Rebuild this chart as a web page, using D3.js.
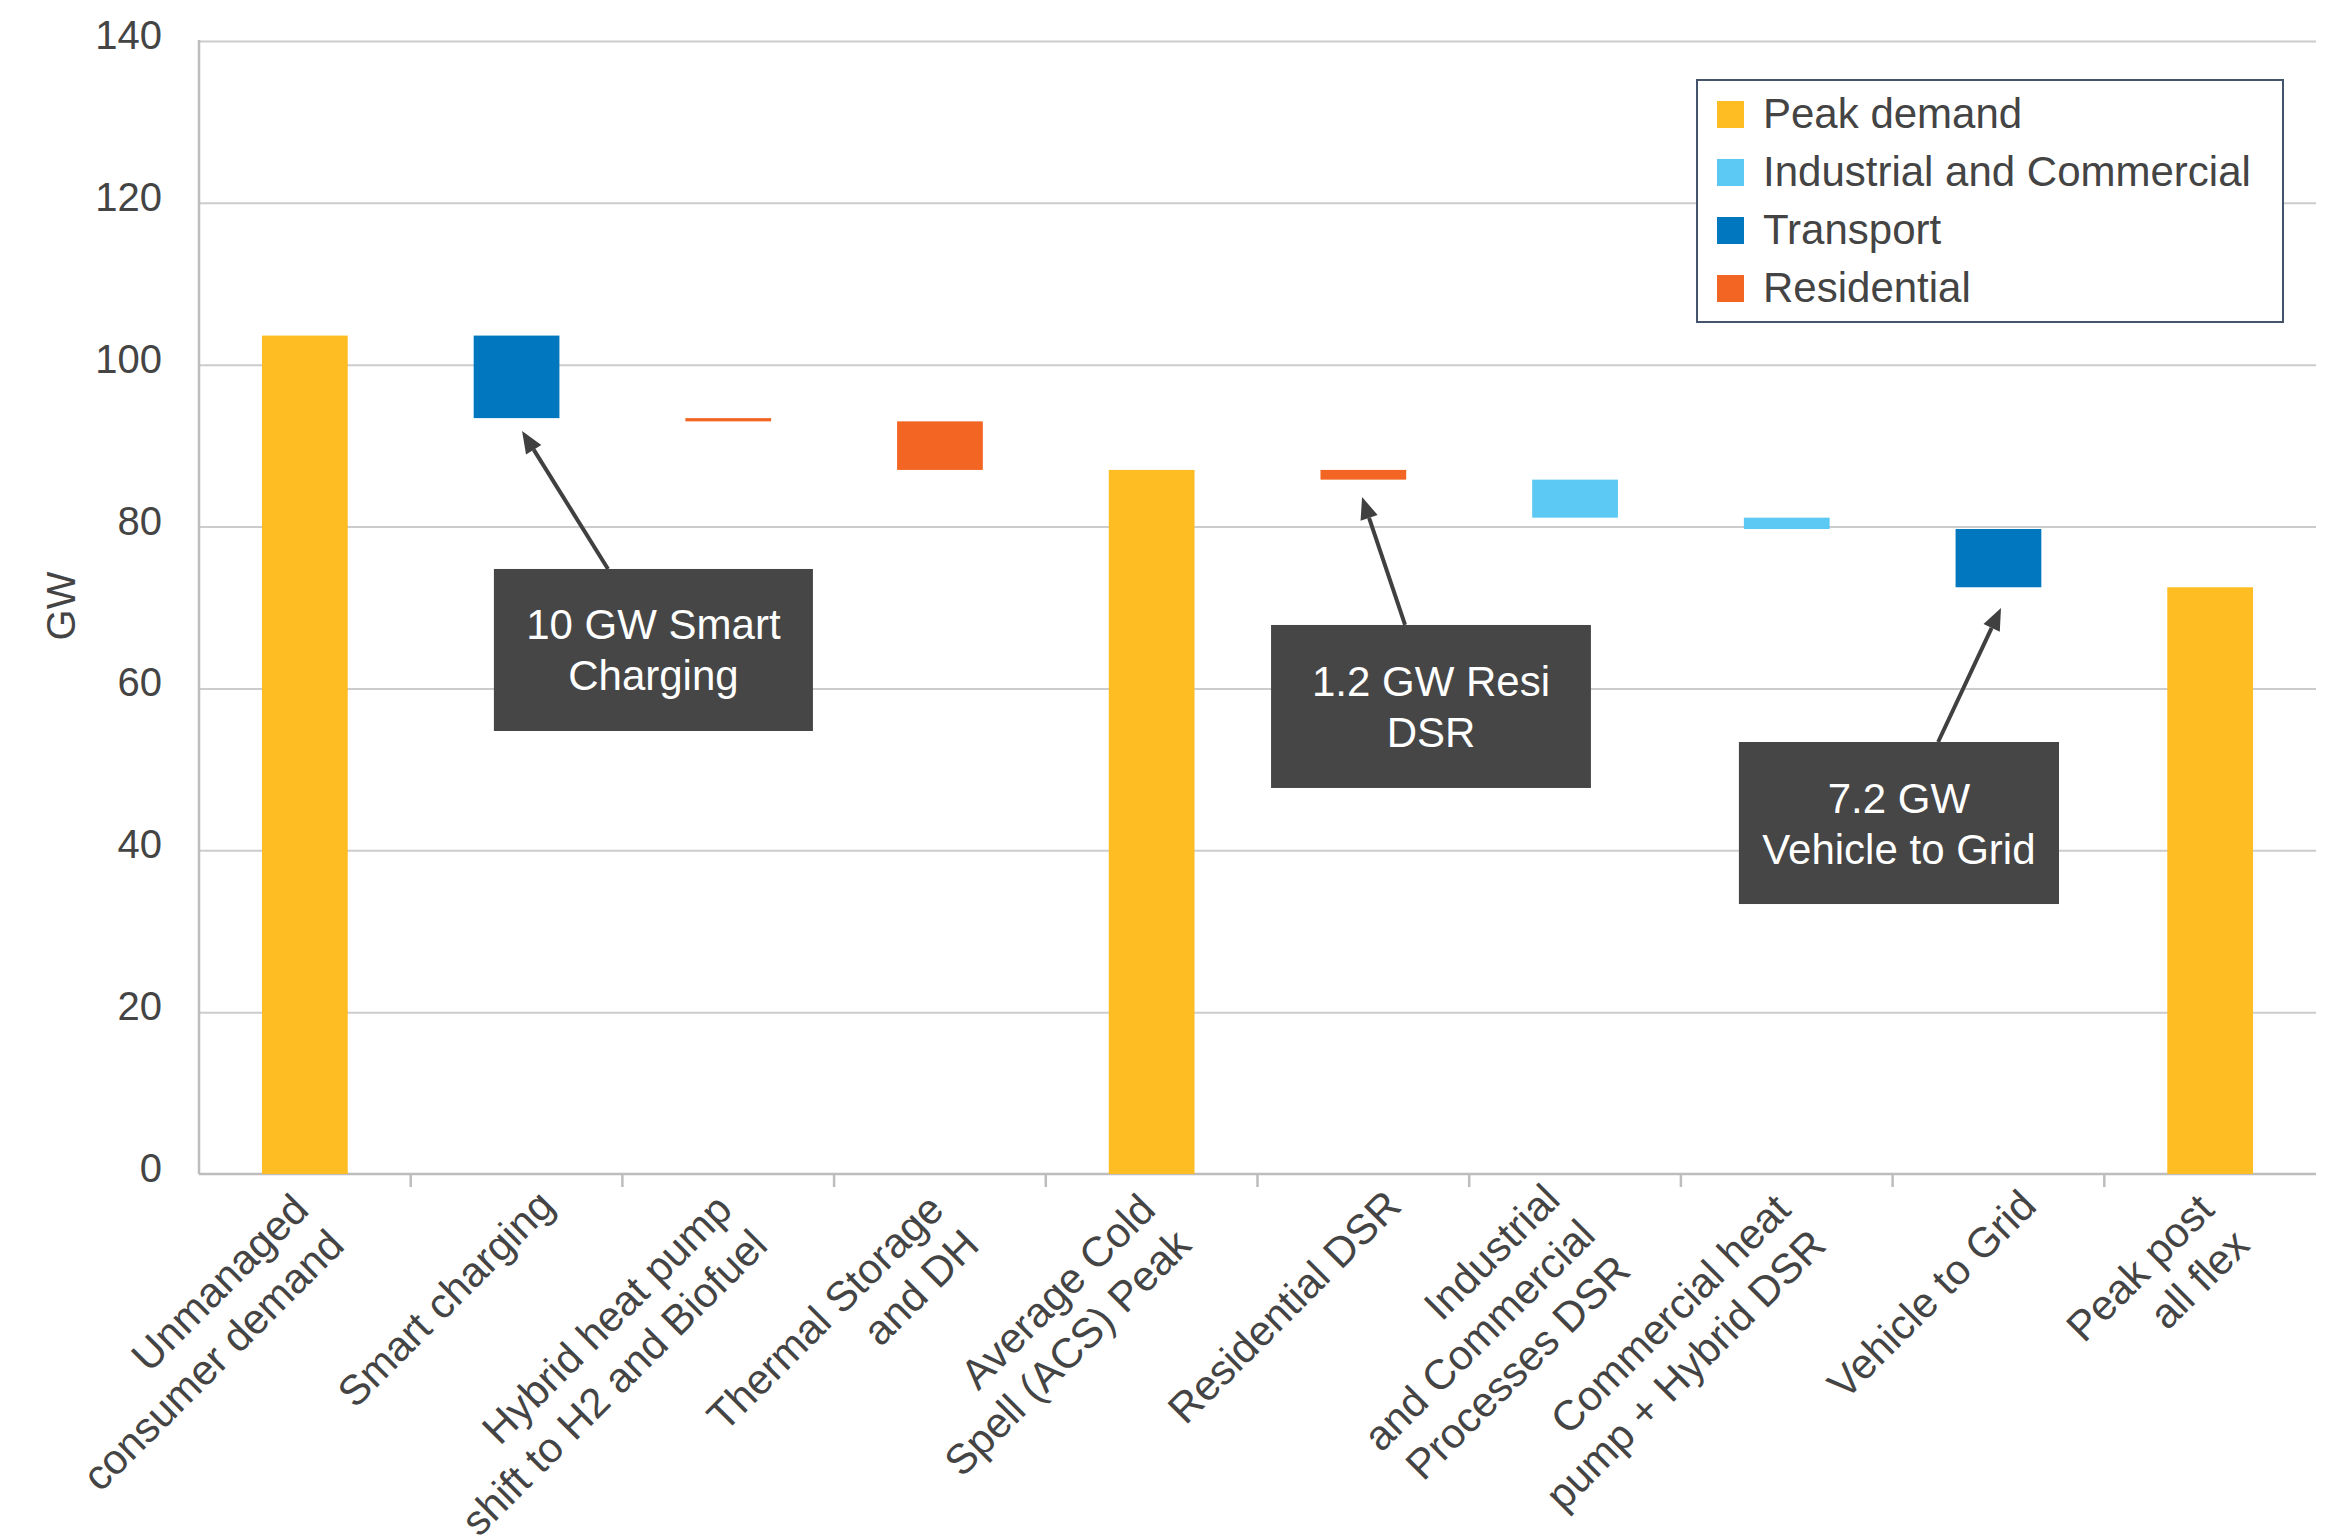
<!DOCTYPE html>
<html><head><meta charset="utf-8">
<script src="https://cdn.jsdelivr.net/npm/d3@7"></script>
<style>
body{margin:0;background:#fff}
text{font-family:"Liberation Sans",Arial,Helvetica,sans-serif}
</style>
</head><body>
<svg id="chart" width="2335" height="1540"></svg>
<script>
// ---------------- DATA ----------------
const categories = ["Unmanaged consumer demand","Smart charging","Hybrid heat pump shift to H2 and Biofuel",
  "Thermal Storage and DH","Average Cold Spell (ACS) Peak","Residential DSR",
  "Industrial and Commercial Processes DSR","Commercial heat pump + Hybrid DSR","Vehicle to Grid","Peak post all flex"];
const labelLines = [["Unmanaged","consumer demand"],["Smart charging"],["Hybrid heat pump","shift to H2 and Biofuel"],
  ["Thermal Storage","and DH"],["Average Cold","Spell (ACS) Peak"],["Residential DSR"],
  ["Industrial","and Commercial","Processes DSR"],["Commercial heat","pump + Hybrid DSR"],["Vehicle to Grid"],["Peak post","all flex"]];
// totals (full bars) and reductions (floating waterfall steps), GW
const totals     = [103.6, null, null, null, 87.0, null, null, null, null, 72.5];
const reductions = [null, 10.2, 0.4, 6.0, null, 1.2, 4.7, 1.4, 7.2, null];
const sectors = ["Peak demand","Transport","Residential","Residential","Peak demand","Residential",
  "Industrial and Commercial","Industrial and Commercial","Transport","Peak demand"];
const legendNames  = ["Peak demand","Industrial and Commercial","Transport","Residential"];
const legendColors = ["#FEBD22","#5BC9F4","#0077BF","#F26522"];
const yTicks = [0,20,40,60,80,100,120,140];
const annotationTexts = [["10 GW Smart","Charging"],["1.2 GW Resi","DSR"],["7.2 GW","Vehicle to Grid"]];

// ---------------- LAYOUT ----------------
const W = 2335, H = 1540;
const M = {left:199, right:2316, top:41, bottom:1174};
const textColor = "#444444";
const svg = d3.select("#chart");
svg.append("rect").attr("width",W).attr("height",H).attr("fill","#fff");

const x = d3.scaleBand().domain(categories).range([M.left, M.right]).padding(0);
const xu = d3.scaleLinear().domain([0, categories.length]).range([M.left, M.right]); // band units
const y = d3.scaleLinear().domain([0,140]).range([M.bottom, M.top]);
const color = d3.scaleOrdinal().domain(legendNames).range(legendColors);

// y axis with gridlines
const yAxis = svg.append("g").attr("transform",`translate(${M.left},0)`)
  .call(d3.axisLeft(y).tickValues(yTicks).tickSize(-(M.right-M.left)).tickPadding(37));
yAxis.select(".domain").remove();
yAxis.selectAll(".tick line").attr("stroke","#CCCCCC").attr("stroke-width",2)
  .filter(d=>d===0).remove();
yAxis.selectAll(".tick text").attr("fill",textColor).attr("font-size",40)
  .attr("dy","7.5px").style("font-family",'"Liberation Sans",Arial,sans-serif');

// axis lines
svg.append("line").attr("x1",M.left).attr("x2",M.left).attr("y1",M.top-1).attr("y2",M.bottom)
  .attr("stroke","#BDBDBD").attr("stroke-width",2.5);
svg.append("line").attr("x1",M.left).attr("x2",M.right).attr("y1",y(0)).attr("y2",y(0))
  .attr("stroke","#BDBDBD").attr("stroke-width",2.5);
// category boundary ticks
svg.append("g").selectAll("line").data(categories.slice(1)).join("line")
  .attr("x1",d=>x(d)).attr("x2",d=>x(d)).attr("y1",y(0)).attr("y2",y(0)+13)
  .attr("stroke","#BDBDBD").attr("stroke-width",2.5);

// y title
svg.append("text").attr("transform","translate(75,606) rotate(-90)")
  .attr("text-anchor","middle").attr("font-size",40).attr("fill",textColor).text("GW");

// waterfall bars
let level = 0;
const bars = categories.map((c,i)=>{
  let top, bottom;
  if (totals[i] !== null) { top = totals[i]; bottom = 0; level = totals[i]; }
  else { top = level; bottom = level - reductions[i]; level = bottom; }
  return {c, top, bottom, sector: sectors[i]};
});
const bw = x.bandwidth()*0.405;
svg.append("g").selectAll("rect").data(bars).join("rect")
  .attr("x",d=>x(d.c)+x.bandwidth()/2-bw/2).attr("width",bw)
  .attr("y",d=>y(d.top)).attr("height",d=>y(d.bottom)-y(d.top))
  .attr("fill",d=>color(d.sector));

// x labels, rotated -45
const LH = 50;
const firstLineOffset = {1:[40,34], 2:[6,38], 3:[-13,28]};
const xl = svg.append("g");
categories.forEach((c,i)=>{
  const lines = labelLines[i];
  const off = firstLineOffset[lines.length];
  const cx = x(c)+x.bandwidth()/2;
  const t = xl.append("text")
    .attr("transform",`translate(${cx+off[0]},${y(0)+off[1]}) rotate(-45)`)
    .attr("text-anchor","end").attr("font-size",42).attr("fill",textColor);
  lines.forEach((ln,k)=>t.append("tspan").attr("x",0).attr("y",k*LH).text(ln));
});

// legend
const lg = svg.append("g");
lg.append("rect").attr("x",1697).attr("y",80).attr("width",586).attr("height",242)
  .attr("fill","#fff").attr("stroke","#44546A").attr("stroke-width",2);
legendNames.forEach((n,i)=>{
  lg.append("rect").attr("x",1717).attr("y",101+58*i).attr("width",27).attr("height",27).attr("fill",legendColors[i]);
  lg.append("text").attr("x",1763).attr("y",128+58*i).attr("font-size",42).attr("fill",textColor).text(n);
});

// annotations (positions in band units / GW)
const annotationLayout = [
  {box:[1.393,2.900,74.76,54.74], from:[1.932,74.76], to:[1.526,91.81]},
  {box:[5.064,6.575,67.84,47.70], from:[5.697,67.84], to:[5.494,83.65]},
  {box:[7.274,8.786,53.38,33.36], from:[8.215,53.38], to:[8.512,69.94]}
];
const ag = svg.append("g");
annotationLayout.forEach((a,i)=>{
  const x0=xu(a.box[0]), x1=xu(a.box[1]), y0=y(a.box[2]), y1=y(a.box[3]);
  // arrow
  const fx=xu(a.from[0]), fy=y(a.from[1]), tx=xu(a.to[0]), ty=y(a.to[1]);
  const ang=Math.atan2(ty-fy,tx-fx), hl=22, hw=9;
  const bx=tx-hl*Math.cos(ang), by=ty-hl*Math.sin(ang);
  ag.append("line").attr("x1",fx).attr("y1",fy).attr("x2",bx).attr("y2",by)
    .attr("stroke","#404040").attr("stroke-width",4);
  ag.append("path").attr("d",`M${tx},${ty}L${bx+hw*Math.sin(ang)},${by-hw*Math.cos(ang)}L${bx-hw*Math.sin(ang)},${by+hw*Math.cos(ang)}Z`)
    .attr("fill","#404040");
  ag.append("rect").attr("x",x0).attr("y",y0).attr("width",x1-x0).attr("height",y1-y0).attr("fill","#464646");
  const cy=(y0+y1)/2, lines=annotationTexts[i];
  const t=ag.append("text").attr("text-anchor","middle").attr("font-size",42).attr("fill","#fff");
  lines.forEach((ln,k)=>t.append("tspan").attr("x",(x0+x1)/2)
    .attr("y",cy+15+(k-(lines.length-1)/2)*51).text(ln));
});
</script>
</body></html>
